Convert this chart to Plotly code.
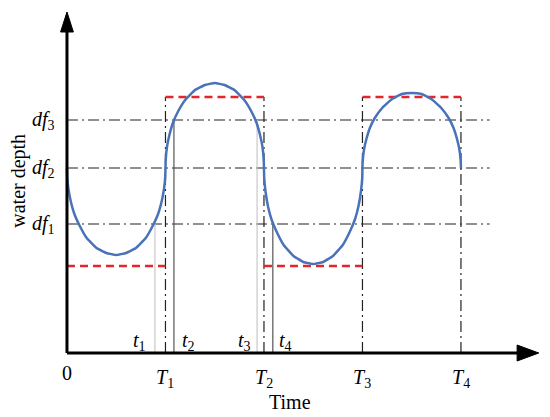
import plotly.graph_objects as go

# ---- data (time in units of T, depth in arbitrary units) ----
T_ticks = [1, 2, 3, 4]
T_subs = ["1", "2", "3", "4"]
df_levels = [1.29, 1.85, 2.33]
df_subs = ["1", "2", "3"]
t_marks = [0.893, 1.086, 1.93, 2.09]
t_tops = [1.29, 2.33, 2.33, 1.29]
t_colors = ["#c8c8c8", "#555555", "#c8c8c8", "#555555"]
t_subs = ["1", "2", "3", "4"]
t_label_x = [0.74, 1.23, 1.80, 2.22]

curve_time = [0, 0.0025, 0.015, 0.04, 0.075, 0.125, 0.2, 0.3, 0.4, 0.5, 0.6, 0.7, 0.8, 0.875, 0.925, 0.96, 0.985, 0.9975,
              1.0, 1.0025, 1.015, 1.04, 1.075, 1.125, 1.2, 1.3, 1.4, 1.5, 1.6, 1.7, 1.8, 1.875, 1.925, 1.96, 1.985, 1.9975,
              2.0, 2.0025, 2.015, 2.04, 2.075, 2.125, 2.2, 2.3, 2.4, 2.5, 2.6, 2.7, 2.8, 2.875, 2.925, 2.96, 2.985, 2.9975,
              3.0, 3.0025, 3.015, 3.04, 3.075, 3.125, 3.2, 3.3, 3.4, 3.5, 3.6, 3.7, 3.8, 3.875, 3.925, 3.96, 3.985, 3.9975,
              4.0]
curve_depth = [1.85, 1.76, 1.64, 1.51, 1.39, 1.28, 1.15, 1.05, 1.00, 0.98, 1.00, 1.05, 1.15, 1.28, 1.39, 1.51, 1.64, 1.76,
               1.85, 1.93, 2.06, 2.18, 2.30, 2.41, 2.53, 2.63, 2.68, 2.70, 2.68, 2.63, 2.53, 2.41, 2.30, 2.18, 2.06, 1.93,
               1.85, 1.75, 1.62, 1.47, 1.34, 1.22, 1.08, 0.97, 0.91, 0.89, 0.91, 0.97, 1.08, 1.22, 1.34, 1.47, 1.62, 1.75,
               1.85, 1.92, 2.03, 2.14, 2.25, 2.35, 2.45, 2.54, 2.59, 2.60, 2.59, 2.54, 2.45, 2.35, 2.25, 2.14, 2.03, 1.92,
               1.85]

red_low, red_high = 0.87, 2.56
red_segments = [(0, 1, red_low), (1, 2, red_high), (2, 3, red_low), (3, 4, red_high)]
h_line_end = 4.29

fig = go.Figure()

dashdot = dict(color="#222222", width=1.2, dash="11px,4px,2px,4px")
# horizontal dash-dot reference lines
for lv in df_levels:
    fig.add_trace(go.Scatter(x=[0, h_line_end], y=[lv, lv], mode="lines", line=dashdot,
                             hoverinfo="skip", showlegend=False))
# vertical dash-dot lines at T
for T in T_ticks:
    fig.add_trace(go.Scatter(x=[T, T], y=[0, red_high], mode="lines", line=dashdot,
                             hoverinfo="skip", showlegend=False))
# thin vertical lines at t
for tx, ty, c in zip(t_marks, t_tops, t_colors):
    fig.add_trace(go.Scatter(x=[tx, tx], y=[0, ty], mode="lines",
                             line=dict(color=c, width=1.2),
                             hoverinfo="skip", showlegend=False))
# red dashed step
for x0, x1, y in red_segments:
    fig.add_trace(go.Scatter(x=[x0, x1], y=[y, y], mode="lines",
                             line=dict(color="#e3262c", width=2.5, dash="8px,5px"),
                             hoverinfo="skip", showlegend=False))
# water depth curve
fig.add_trace(go.Scatter(x=curve_time, y=curve_depth, mode="lines",
                         line=dict(color="#4a72b8", width=2.5, shape="spline", smoothing=0.3),
                         hoverinfo="skip", showlegend=False))

# axes with arrows
shapes = [
    dict(type="line", x0=0, x1=4.6, y0=0, y1=0, line=dict(color="black", width=3)),
    dict(type="line", x0=0, x1=0, y0=0, y1=3.25, line=dict(color="black", width=3)),
    dict(type="path", path="M 4.57 0.08 L 4.79 0 L 4.57 -0.08 Z",
         fillcolor="black", line=dict(color="black", width=1)),
    dict(type="path", path="M -0.065 3.21 L 0 3.41 L 0.065 3.21 Z",
         fillcolor="black", line=dict(color="black", width=1)),
]

font = dict(family="Liberation Serif, Times New Roman, serif", size=20, color="black")
ann = []
ann.append(dict(x=0, y=-0.20, text="0", showarrow=False, font=font))
for T, s in zip(T_ticks, T_subs):
    ann.append(dict(x=T, y=-0.25, text="<i>T</i><sub>%s</sub>" % s, showarrow=False, font=font))
for lv, s in zip(df_levels, df_subs):
    ann.append(dict(x=-0.10, y=lv, xanchor="right", text="<i>df</i><sub>%s</sub>" % s,
                    showarrow=False, font=font))
for tx, s in zip(t_label_x, t_subs):
    ann.append(dict(x=tx, y=0.12, text="<i>t</i><sub>%s</sub>" % s, showarrow=False, font=font))
ann.append(dict(x=2.26, y=-0.49, text="Time", showarrow=False, font=font))
ann.append(dict(x=-0.5, y=1.72, text="water depth", textangle=-90, showarrow=False, font=font))

fig.update_layout(
    width=550, height=417, margin=dict(l=0, r=0, t=0, b=0),
    paper_bgcolor="white", plot_bgcolor="white",
    xaxis=dict(range=[-0.68, 4.904], visible=False, fixedrange=True),
    yaxis=dict(range=[-0.64, 3.53], visible=False, fixedrange=True),
    shapes=shapes, annotations=ann,
)

fig.write_html("out.html", config={"displayModeBar": False},
               post_script="document.body.style.margin='0';")
